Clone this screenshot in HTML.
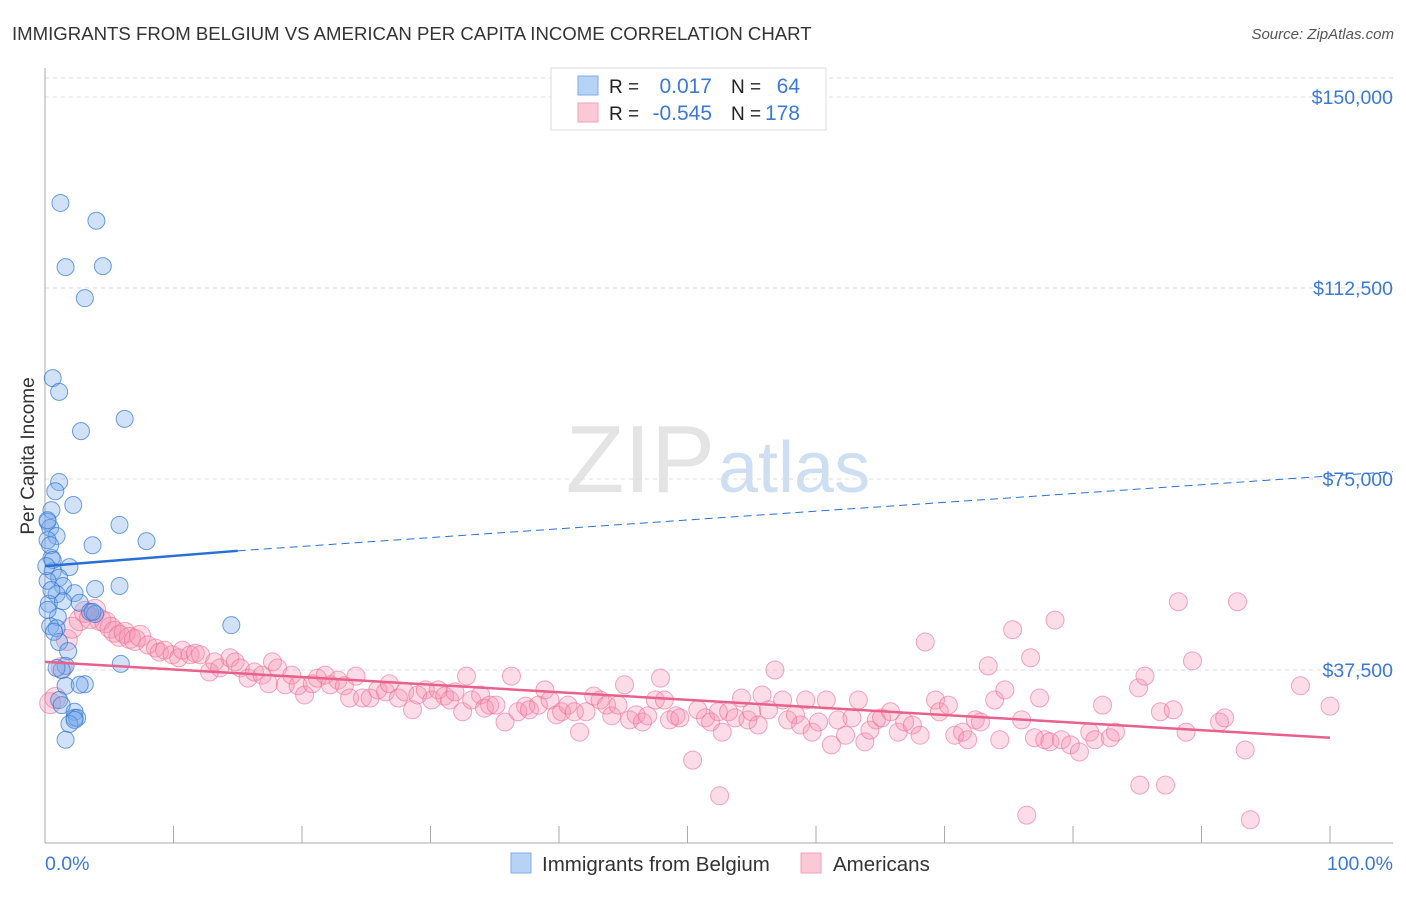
<!DOCTYPE html>
<html><head><meta charset="utf-8"><style>
body{margin:0;background:#fff;font-family:"Liberation Sans",sans-serif}
svg text{font-family:"Liberation Sans",sans-serif}
</style></head><body>
<svg id="c" width="1406" height="892">
<text x="12" y="40" font-size="18.6" fill="#333">IMMIGRANTS FROM BELGIUM VS AMERICAN PER CAPITA INCOME CORRELATION CHART</text>
<text x="1394" y="39" font-size="15" fill="#555" font-style="italic" text-anchor="end">Source: ZipAtlas.com</text>
<text x="715" y="492" font-size="96" fill="#e4e4e4" text-anchor="end" font-family="Liberation Serif">ZIP</text>
<text x="718" y="492" font-size="72" fill="#cfdff3">atlas</text>
<g id="grid"></g><g id="axes"></g><g id="pts"></g><g id="trend"></g>
<text transform="translate(34,456) rotate(-90)" font-size="19" fill="#333" text-anchor="middle">Per Capita Income</text>
<text x="45" y="870" font-size="19.5" fill="#3b78d8">0.0%</text>
<text x="1393" y="870" font-size="19.5" fill="#3b78d8" text-anchor="end">100.0%</text>
<g>
<rect x="551" y="68" width="275" height="62" fill="#fff" stroke="#ddd"/>
<rect x="578" y="76" width="20" height="19" fill="#b6d2f5" stroke="#7eaee8"/>
<rect x="578" y="103" width="20" height="19" fill="#fbc8d6" stroke="#f2a0b8"/>
<text x="609" y="93" font-size="19" fill="#222">R =</text><text x="712" y="93" font-size="21" fill="#3b78d8" text-anchor="end">0.017</text>
<text x="731" y="93" font-size="19" fill="#222">N =</text><text x="800" y="93" font-size="21" fill="#3b78d8" text-anchor="end">64</text>
<text x="609" y="120" font-size="19" fill="#222">R =</text><text x="712" y="120" font-size="21" fill="#3b78d8" text-anchor="end">-0.545</text>
<text x="731" y="120" font-size="19" fill="#222">N =</text><text x="800" y="120" font-size="21" fill="#3b78d8" text-anchor="end">178</text>
</g>
<g>
<rect x="511" y="853" width="20" height="20" fill="#b6d2f5" stroke="#7eaee8"/>
<text x="542" y="871" font-size="20.5" fill="#333">Immigrants from Belgium</text>
<rect x="801" y="853" width="20" height="20" fill="#fbc8d6" stroke="#f2a0b8"/>
<text x="833" y="871" font-size="20.5" fill="#333">Americans</text>
</g>
</svg>
<script>
const yTicks=[37500,75000,112500,150000];
const yTickLabels=["$37,500","$75,000","$112,500","$150,000"];
const blueX=[1.2,4,1.6,4.5,3.1,0.6,1.1,2.8,6.2,1.1,0.8,2.2,0.5,0.2,0.4,0.9,0.2,3.7,7.9,5.8,0.5,1.9,0.6,1.1,0.2,1.4,3.9,5.8,0.9,2.3,0.3,1.4,2.7,1,0.4,0.9,3.5,3.9,14.5,1.1,1.8,1.6,5.9,1.3,1.6,3.1,2.7,1.1,2.3,2.3,2.5,1.9,1.6,0.2,0.4,0.6,0.1,0.5,0.2,0.7,0.9,1.3,2.3,3.7];
const blueY=[129200,125700,116600,116800,110500,94800,92100,84400,86800,74400,72600,69900,68900,66600,65400,63800,63000,62000,62800,66000,59500,57700,56900,55600,55000,54000,53400,54000,52400,52600,50500,51000,50700,47900,46100,45700,48900,48500,46300,43000,41200,38300,38700,37500,34400,34700,34600,31600,29300,28100,28100,26900,23800,66900,62000,59100,57900,53200,49300,45000,37900,30600,27700,48900];
const pinkX=[0.4,0.8,1.3,1.7,2.1,2.7,3.1,3.5,3.9,4.3,4.7,5.1,5.4,5.8,6.2,6.6,7.0,7.4,8.0,8.6,8.9,9.3,9.9,10.4,10.7,11.3,11.7,12.1,12.8,13.2,13.6,14.4,14.8,15.2,15.8,16.3,16.9,17.4,17.7,18.1,18.7,19.2,19.7,20.2,20.8,21.2,21.8,22.2,22.8,23.3,23.7,24.2,24.7,25.3,25.9,26.5,26.8,27.5,28.0,28.6,29.0,29.6,30.1,30.6,31.1,31.5,31.9,32.5,32.8,33.2,33.9,34.2,34.6,35.1,35.8,36.3,36.8,37.4,37.7,38.4,38.9,39.3,39.8,40.2,40.7,41.2,41.6,42.1,42.7,43.2,43.7,44.1,44.6,45.1,45.5,46.0,46.5,46.9,47.5,47.9,48.2,48.6,49.1,49.4,50.4,50.8,51.4,51.8,52.4,52.7,53.2,53.7,54.2,54.7,55.0,55.5,55.8,56.3,56.8,57.4,57.8,58.4,58.8,59.2,59.7,60.2,60.8,61.2,61.7,62.3,62.8,63.3,63.8,64.2,64.7,65.1,65.8,66.4,66.9,67.5,68.1,68.5,69.3,69.6,70.3,70.8,71.4,71.8,72.4,72.8,73.4,73.9,74.3,74.7,75.3,76.0,76.7,77.0,77.4,77.8,78.2,78.6,79.1,79.8,80.5,81.3,81.7,82.3,82.9,83.3,85.1,85.6,86.8,87.2,87.8,88.2,88.8,89.3,91.4,91.8,92.8,93.4,97.7,100,52.5,76.4,93.8,85.2];
const pinkY=[31000,32000,37900,43400,45800,47300,48900,47700,49300,47300,46900,45800,45000,44200,44800,43800,43400,44200,42400,41800,41000,41400,40500,39900,41400,40500,40800,40500,37100,39100,37900,39900,39100,37900,35900,37100,36500,34800,39100,37900,34600,36500,34400,32600,34800,35900,36500,34600,35500,34400,32000,36300,32000,32000,33600,33200,34800,32000,33200,29700,32600,33600,31600,33600,32400,31600,33200,29300,36300,31600,32600,30000,30600,30600,27300,36300,29300,30400,29700,30600,33600,31600,28700,29300,30600,29300,25300,29300,32400,31600,30600,28500,30600,34600,27700,28700,27300,28500,31600,35900,31600,27700,28500,28100,19800,29700,28100,27300,29300,25300,29300,28100,32000,27700,29300,26700,32600,29700,37500,31600,27700,28700,26700,31600,25300,27300,31600,22800,27700,24700,28100,31600,23400,25700,27700,28100,29300,25300,27300,26700,24700,43000,31600,29300,30600,24700,25300,23800,27700,27300,38300,31600,23800,33600,45400,27700,39900,24200,32000,23800,23400,47300,23800,22800,21400,25300,23800,30600,24200,25300,34000,36300,29300,14900,29700,50900,25300,39300,27300,28100,50900,21800,34400,30400,12800,9000,8100,14900];
const trendBlue=[[0,57900],[15,60900],[100,75600]];
const trendPink=[[0,39100],[100,24200]];
const X0=45,X1=1330,YB=861,PX=191/37500;
const sx=p=>X0+(X1-X0)*p/100, sy=v=>YB-v*PX;
const NS='http://www.w3.org/2000/svg';
function mk(t,a,parent){const e=document.createElementNS(NS,t);for(const k in a)e.setAttribute(k,a[k]);document.getElementById(parent).appendChild(e);return e;}
let g=mk('line',{x1:45,x2:1393,y1:78,y2:78,stroke:'#ddd','stroke-dasharray':'4,4'},'grid');


yTicks.forEach((v,i)=>{
 const l=mk('line',{x1:45,x2:1393,y1:sy(v),y2:sy(v),stroke:'#ddd','stroke-dasharray':'4,4'},'grid');
 
 
 const t=mk('text',{x:1393,y:sy(v)+7,'font-size':19.5,fill:'#3b78d8','text-anchor':'end'},'grid');
 t.textContent=yTickLabels[i];
 
 
});
let a=mk('line',{x1:45,x2:45,y1:68,y2:843,stroke:'#aaa'},'axes');


a=mk('line',{x1:45,x2:1393,y1:843,y2:843,stroke:'#aaa'},'axes');


for(let i=0;i<=10;i++){const t=mk('line',{x1:sx(i*10),x2:sx(i*10),y1:826,y2:843,stroke:'#aaa'},'axes');
 
 }
pinkX.forEach((x,i)=>{const c=mk('circle',{cx:sx(x),cy:sy(pinkY[i]),r:(x<8?10.5:9),fill:'rgba(244,143,177,0.3)',stroke:'rgba(236,110,150,0.6)','stroke-width':1},'pts');
 
 });
blueX.forEach((x,i)=>{const c=mk('circle',{cx:sx(x),cy:sy(blueY[i]),r:8.5,fill:'rgba(120,170,235,0.35)',stroke:'rgba(50,120,210,0.7)','stroke-width':1},'pts');
 
 });
let t=mk('line',{x1:sx(trendBlue[0][0]),y1:sy(trendBlue[0][1]),x2:sx(trendBlue[1][0]),y2:sy(trendBlue[1][1]),stroke:'#2a6fd6','stroke-width':2.5},'trend');


t=mk('line',{x1:sx(trendBlue[1][0]),y1:sy(trendBlue[1][1]),x2:1393,y2:sy(trendBlue[1][1]+(trendBlue[2][1]-trendBlue[1][1])*((1393-sx(trendBlue[1][0]))/(sx(100)-sx(trendBlue[1][0])))),stroke:'#2a6fd6','stroke-width':1,'stroke-dasharray':'8,5'},'trend');


t=mk('line',{x1:sx(trendPink[0][0]),y1:sy(trendPink[0][1]),x2:sx(trendPink[1][0]),y2:sy(trendPink[1][1]),stroke:'#e8608c','stroke-width':2.5},'trend');


</script>
</body></html>
